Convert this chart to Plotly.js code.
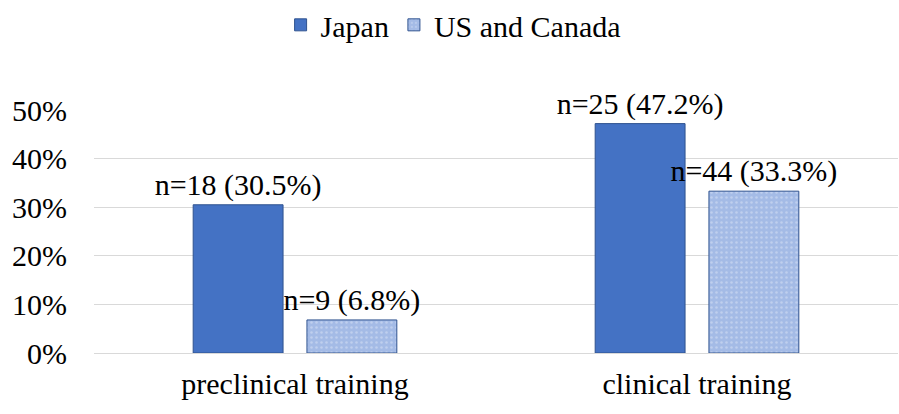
<!DOCTYPE html>
<html><head><meta charset="utf-8">
<script src="https://cdn.plot.ly/plotly-3.0.1.min.js"></script>
<style>body{margin:0;background:#fff}#c{width:899px;height:414px}</style>
</head><body><div id="c"></div>
<script>
const categories = ["preclinical training", "clinical training"];
const seriesNames = ["Japan", "US and Canada"];
const japanValues = [0.305, 0.472];
const usCanadaValues = [0.068, 0.333];
const japanLabels = ["n=18 (30.5%)", "n=25 (47.2%)"];
const usCanadaLabels = ["n=9 (6.8%)", "n=44 (33.3%)"];

function F(size) { return {family: "Liberation Serif", size: size || 30, color: "#000"}; }

const traces = [
  {type: "bar", name: seriesNames[0], x: categories, y: japanValues, text: japanLabels,
   textposition: "outside", cliponaxis: false, constraintext: "none", textfont: F(),
   marker: {color: "#4472c4", line: {color: "#2f528f", width: 1}}},
  {type: "bar", name: seriesNames[1], x: categories, y: usCanadaValues, text: usCanadaLabels,
   textposition: "outside", cliponaxis: false, constraintext: "none", textfont: F(),
   marker: {color: "#a4bbe6", line: {color: "#2f528f", width: 1},
            pattern: {shape: ".", fgcolor: "#bfcfee", bgcolor: "#a4bbe6", size: 5, solidity: 0.2}}}
];

const layout = {
  width: 899, height: 414,
  margin: {l: 94, r: 1, t: 110, b: 61, autoexpand: false},
  paper_bgcolor: "#fff", plot_bgcolor: "#fff",
  font: F(),
  bargap: 0.434, bargroupgap: 0.21,
  showlegend: true,
  legend: {orientation: "h", x: 0.504, xanchor: "center", xref: "container", y: 0.94, yanchor: "middle", yref: "container", font: F(), itemwidth: 30},
  xaxis: {showgrid: false, showline: false, ticks: "", tickfont: F(), ticklabelstandoff: 10, automargin: false},
  yaxis: {range: [0, 0.5], tickvals: [0, 0.1, 0.2, 0.3, 0.4, 0.5], tickformat: ".0%",
          gridcolor: "#d9d9d9", gridwidth: 1, zeroline: true, zerolinecolor: "#d9d9d9", zerolinewidth: 1,
          showline: false, ticks: "", tickfont: F(), ticklabelstandoff: 26, automargin: false}
};

Plotly.newPlot("c", traces, layout, {displayModeBar: false, staticPlot: true});
</script></body></html>
